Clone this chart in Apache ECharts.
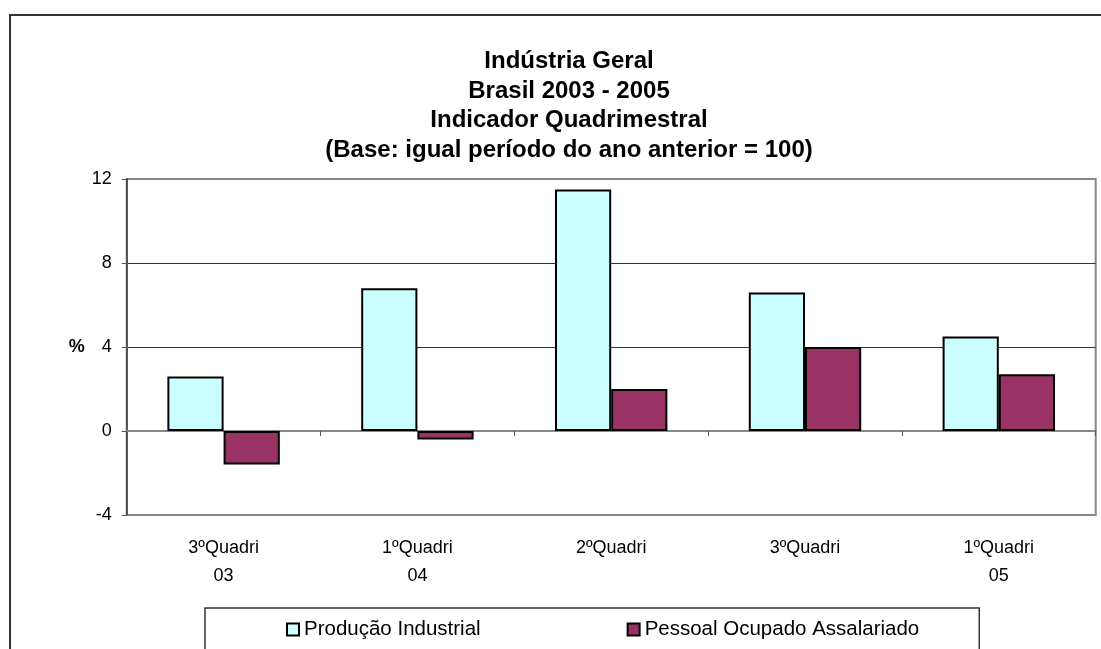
<!DOCTYPE html>
<html>
<head>
<meta charset="utf-8">
<script src="https://cdn.jsdelivr.net/npm/echarts@6/dist/echarts.min.js"></script>
<style>
  html, body { margin: 0; padding: 0; background: #fff; }
  #chart { width: 1101px; height: 649px; }
</style>
</head>
<body>
<div id="chart"></div>
<script>
// categories and values
var categories = ['3ºQuadri\n03', '1ºQuadri\n04', '2ºQuadri', '3ºQuadri', '1ºQuadri\n05'];
var producao = [2.6, 6.8, 11.5, 6.6, 4.5];
var pessoal = [-1.6, -0.4, 2.0, 4.0, 2.7];
var seriesNames = ['Produção Industrial', 'Pessoal Ocupado Assalariado'];
var titleLines = [
    'Indústria Geral',
    'Brasil 2003 - 2005',
    'Indicador Quadrimestral',
    '(Base: igual período do ano anterior = 100)'
];

var chart = echarts.init(document.getElementById('chart'));

var option = {
    backgroundColor: '#fff',
    animation: false,
    textStyle: { fontFamily: 'Liberation Sans, Arial, sans-serif' },
    title: {
        text: titleLines.join('\n'),
        left: 564,
        top: 42,
        textAlign: 'center',
        textStyle: {
            fontSize: 24,
            fontWeight: 'bold',
            color: '#000',
            lineHeight: 29.5
        }
    },
    graphic: [
        {
            type: 'rect',
            z: -10,
            shape: { x: 10, y: 15, width: 1300, height: 900 },
            style: { fill: 'none', stroke: '#333', lineWidth: 2 }
        }
    ],
    legend: {
        left: 205,
        top: 608,
        padding: [11, 60, 11, 81],
        itemGap: 146,
        itemWidth: 12,
        itemHeight: 12,
        icon: 'rect',
        borderColor: '#333',
        borderWidth: 1.5,
        textStyle: { fontSize: 20.5, color: '#000' },
        data: seriesNames
    },
    grid: {
        left: 126.7,
        right: 5.3,
        top: 179,
        bottom: 134,
        show: true,
        borderColor: '#888',
        borderWidth: 2
    },
    xAxis: [
        {
            // line at zero with ticks between categories
            type: 'category',
            data: categories,
            axisLine: { onZero: true, lineStyle: { color: '#888', width: 2 } },
            axisTick: { show: true, length: 5, lineStyle: { color: '#555' } },
            axisLabel: { show: false },
            splitLine: { show: false }
        },
        {
            // labels under the plot
            type: 'category',
            position: 'bottom',
            data: categories,
            axisLine: { show: false, onZero: false },
            axisTick: { show: false },
            axisLabel: {
                margin: 19,
                fontSize: 18,
                lineHeight: 28,
                color: '#000'
            }
        }
    ],
    yAxis: {
        type: 'value',
        min: -4,
        max: 12,
        interval: 4,
        name: '%',
        nameLocation: 'middle',
        nameRotate: 0,
        nameGap: 50,
        nameTextStyle: {
            fontSize: 18,
            fontWeight: 'bold',
            color: '#000',
            align: 'center',
            verticalAlign: 'middle'
        },
        axisLine: { show: true, lineStyle: { color: '#555', width: 2 } },
        axisTick: { show: true, length: 5, lineStyle: { color: '#555' } },
        axisLabel: { margin: 15, fontSize: 18, color: '#000' },
        splitLine: {
            show: true,
            lineStyle: { color: ['#888', '#888', '#333', '#333', '#888'], width: 1 }
        }
    },
    series: [
        {
            name: seriesNames[0],
            type: 'bar',
            xAxisIndex: 0,
            barGap: '0%',
            barCategoryGap: '42%',
            itemStyle: { color: '#CCFFFF', borderColor: '#000', borderWidth: 2 },
            data: producao
        },
        {
            name: seriesNames[1],
            type: 'bar',
            xAxisIndex: 0,
            barGap: '0%',
            barCategoryGap: '42%',
            itemStyle: { color: '#993366', borderColor: '#000', borderWidth: 2 },
            data: pessoal
        }
    ]
};

chart.setOption(option);
</script>
</body>
</html>
